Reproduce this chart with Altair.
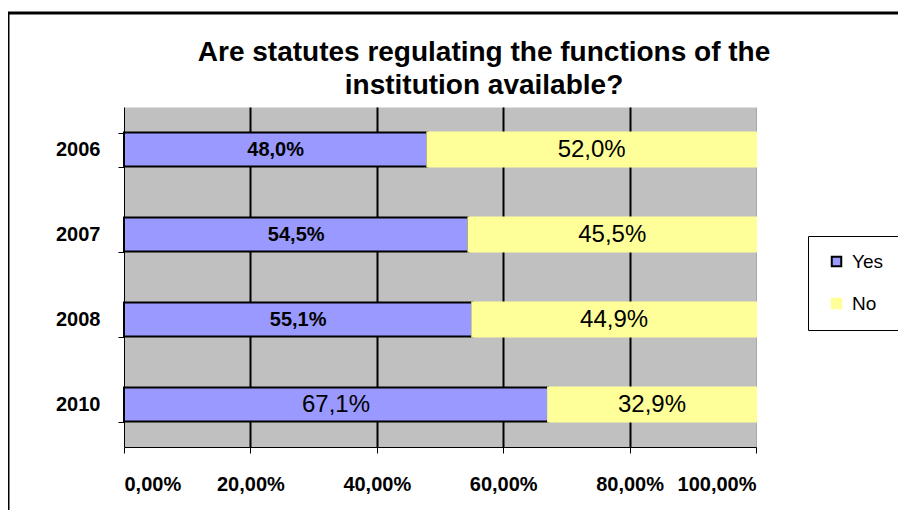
import altair as alt
import pandas as pd

years = ["2006", "2007", "2008", "2010"]
yes_vals = [48.0, 54.5, 55.1, 67.1]
no_vals = [52.0, 45.5, 44.9, 32.9]
yes_bold = [True, True, True, False]
answers = ["Yes", "No"]
x_ticks = [0, 20, 40, 60, 80, 100]

rows = []
for i, y in enumerate(years):
    rows.append({"year": y, "answer": "Yes", "value": yes_vals[i], "order": 0, "bold": yes_bold[i]})
    rows.append({"year": y, "answer": "No", "value": no_vals[i], "order": 1, "bold": False})
df = pd.DataFrame(rows)

FONT = "Liberation Sans"

y_enc = alt.Y(
    "year:N",
    sort=years,
    title=None,
    scale=alt.Scale(paddingInner=0.6, paddingOuter=0.3),
    axis=alt.Axis(
        domainColor="black", domainWidth=1, tickColor="black", tickSize=6,
        tickBand="extent", labelFont=FONT, labelFontSize=20, labelFontWeight="bold",
        labelColor="black", labelPadding=18, grid=False,
    ),
)

x_axis = alt.Axis(
    values=x_ticks,
    labelExpr="replace(format(datum.value, '.2f'), '.', ',') + '%'",
    labelFont=FONT, labelFontSize=20, labelFontWeight="bold", labelColor="black",
    labelPadding=21, domainColor="black", domainWidth=1, tickColor="black", tickSize=6,
    grid=True,
    gridColor={"condition": {"test": "datum.value >= 100", "value": "#A8A8A8"}, "value": "black"},
    gridWidth={"condition": {"test": "datum.value >= 100", "value": 1}, "value": 2},
    gridOpacity={"condition": {"test": "datum.value <= 0", "value": 0}, "value": 1},
    title=None,
)

legend = alt.Legend(
    title=None, orient="none", legendX=684, legendY=129,
    labelFont=FONT, labelFontSize=19, labelColor="black",
    symbolType="square", symbolSize=90, symbolStrokeWidth=2,
    padding=16, rowPadding=22, labelOffset=6, symbolOffset=3,
    strokeColor="black",
)

base = alt.Chart(df)

bars = base.mark_bar(strokeWidth=2).encode(
    y=y_enc,
    x=alt.X("value:Q", stack="zero", scale=alt.Scale(domain=[0, 100]), axis=x_axis),
    color=alt.Color("answer:N", scale=alt.Scale(domain=answers, range=["#9999FF", "#FFFF99"]), legend=legend),
    stroke=alt.Stroke("answer:N", scale=alt.Scale(domain=answers, range=["black", "#FFFF99"]), legend=legend),
    order=alt.Order("order:Q"),
)

txt = base.transform_stack(
    stack="value", groupby=["year"], as_=["x0", "x1"], sort=[alt.SortField("order")]
).transform_calculate(
    mid="(datum.x0 + datum.x1) / 2",
    label="replace(format(datum.value, '.1f'), '.', ',') + '%'",
)

txt_bold = txt.transform_filter("datum.bold").mark_text(
    font=FONT, fontSize=20, fontWeight="bold", color="black", baseline="middle", align="center"
).encode(y=alt.Y("year:N", sort=years), x=alt.X("mid:Q"), text="label:N")

txt_reg = txt.transform_filter("!datum.bold").mark_text(
    font=FONT, fontSize=24, color="black", baseline="middle", align="center"
).encode(y=alt.Y("year:N", sort=years), x=alt.X("mid:Q"), text="label:N")

frame = alt.Chart(alt.Data(values=[{"f": 1}])).mark_rect(
    fillOpacity=0, stroke="black", strokeWidth=3
).encode(x=alt.value(-116), x2=alt.value(830), y=alt.value(-94), y2=alt.value(450))

chart = alt.layer(bars, txt_bold, txt_reg, frame).properties(
    width=632,
    height=340,
    autosize="none",
    padding={"left": 116, "top": 99, "right": 142, "bottom": 63},
    title=alt.Title(
        ["Are statutes regulating the functions of the", "institution available?"],
        font=FONT, fontSize=28, fontWeight="bold", color="black",
        anchor="middle", frame="group", dx=44, lineHeight=33, offset=-88,
    ),
).configure_view(fill="#C0C0C0", stroke="transparent")

chart.save("out.html", embed_options={"renderer": "svg", "actions": False})
